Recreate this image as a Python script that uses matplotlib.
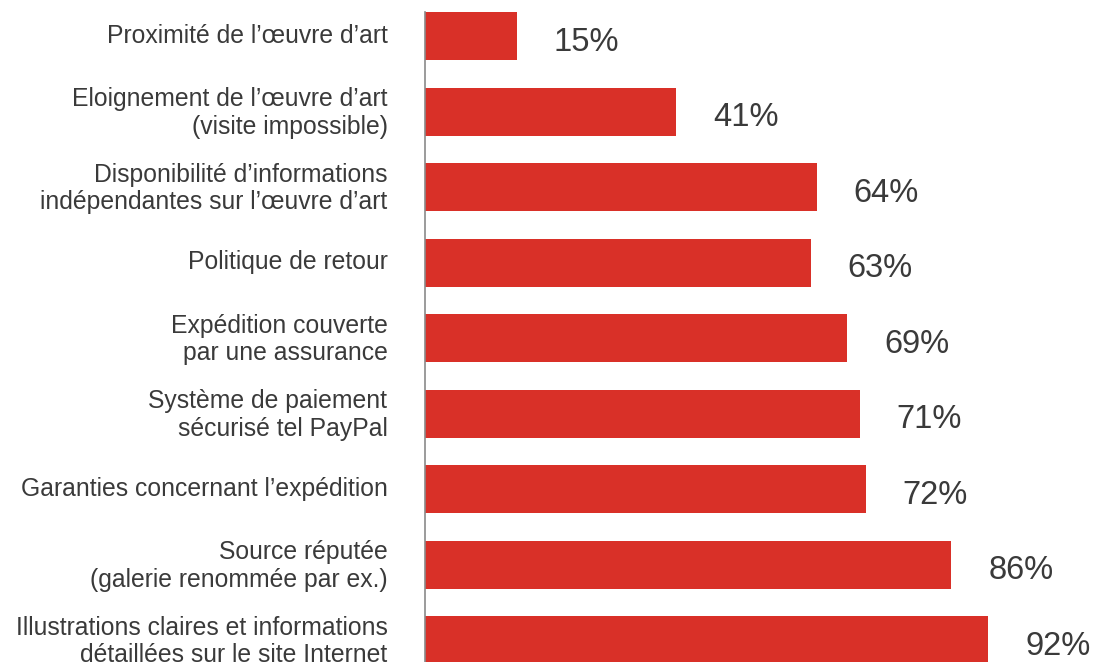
import matplotlib.pyplot as plt
import matplotlib.transforms as mtransforms

categories = [
    "Proximité de l\u2019\u0153uvre d\u2019art",
    "Eloignement de l\u2019\u0153uvre d\u2019art\n(visite impossible)",
    "Disponibilité d\u2019informations\nindépendantes sur l\u2019\u0153uvre d\u2019art",
    "Politique de retour",
    "Expédition couverte\npar une assurance",
    "Système de paiement\nsécurisé tel PayPal",
    "Garanties concernant l\u2019expédition",
    "Source réputée\n(galerie renommée par ex.)",
    "Illustrations claires et informations\ndétaillées sur le site Internet",
]
values = [15, 41, 64, 63, 69, 71, 72, 86, 92]

red = "#d93028"
text_col = "#3a3a3a"
plt.rcParams['font.family'] = ['Liberation Sans', 'DejaVu Sans']

fig = plt.figure(figsize=(10.96, 6.62), dpi=100)
ax = fig.add_axes([425 / 1096, 0, 1 - 425 / 1096, 650 / 662])

ypos = list(range(len(values)))
ax.barh(ypos, values, height=0.636, color=red)
ax.set_xlim(0, (1096 - 425) / 6.12)
ax.set_ylim(8.29, -0.318)

for s in ["top", "right", "bottom"]:
    ax.spines[s].set_visible(False)
ax.spines["left"].set_color("#8a8a8a")
ax.spines["left"].set_linewidth(1.2)
ax.set_xticks([])
ax.set_yticks(ypos)
ax.set_yticklabels(categories, fontsize=17.8, color=text_col, linespacing=1.2)
ax.tick_params(axis="y", length=0, pad=27)
# nudge the category labels up a few pixels
shift = mtransforms.ScaledTranslation(0, 3 / 100, fig.dpi_scale_trans)
for lab in ax.get_yticklabels():
    lab.set_transform(lab.get_transform() + shift)

# value labels, offset in pixels from bar end
offset = mtransforms.offset_copy(ax.transData, fig=fig, x=37, y=-6, units="dots")
for y, v in zip(ypos, values):
    ax.text(v, y, f"{v}%", transform=offset, ha="left", va="center",
            fontsize=23.5, color=text_col)

fig.savefig("out.png", dpi=100)
